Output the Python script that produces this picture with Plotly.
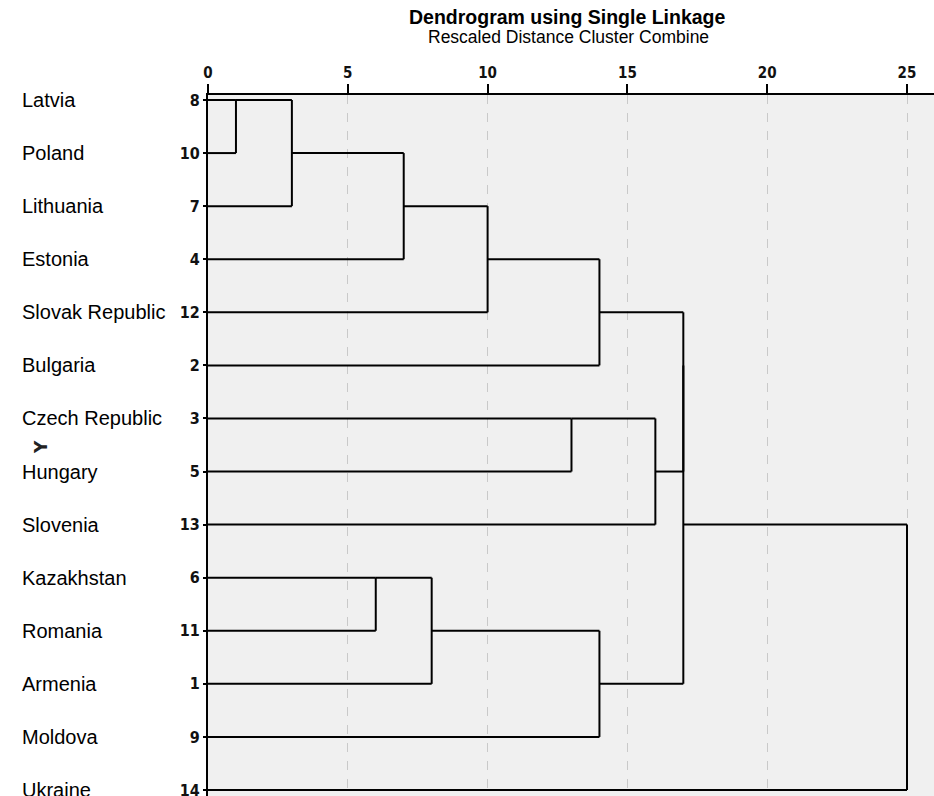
import plotly.graph_objects as go
import math

# ---- data ----
countries = ["Latvia", "Poland", "Lithuania", "Estonia", "Slovak Republic", "Bulgaria",
             "Czech Republic", "Hungary", "Slovenia", "Kazakhstan", "Romania", "Armenia",
             "Moldova", "Ukraine"]
case_ids = [8, 10, 7, 4, 12, 2, 3, 5, 13, 6, 11, 1, 9, 14]

# agglomeration schedule (SPSS style: cluster keeps the first-listed id), rescaled distance
merge_a = [8, 7, 6, 4, 1, 4, 3, 2, 1, 3, 2, 1, 1]
merge_b = [10, 8, 11, 7, 6, 12, 5, 4, 9, 13, 3, 2, 14]
merge_dist = [1, 3, 6, 7, 8, 10, 13, 14, 14, 16, 17, 17, 25]

x_ticks = [0, 5, 10, 15, 20, 25]

# ---- build dendrogram segments ----
row_of = {cid: i for i, cid in enumerate(case_ids)}
pos_y = {cid: row_of[cid] for cid in case_ids}
pos_x = {cid: 0 for cid in case_ids}
xs, ys = [], []
for a, b, d in zip(merge_a, merge_b, merge_dist):
    ya, yb = pos_y[a], pos_y[b]
    xa, xb = pos_x[a], pos_x[b]
    xs += [xa, d, None, xb, d, None, d, d, None]
    ys += [ya, ya, None, yb, yb, None, min(ya, yb), max(ya, yb), None]
    pos_y[a] = math.floor((ya + yb) / 2)
    pos_x[a] = d

fig = go.Figure()
fig.add_trace(go.Scatter(x=xs, y=ys, mode="lines",
                         line=dict(color="black", width=2),
                         hoverinfo="skip", showlegend=False))

W, H = 934, 796
L, T = 208, 95
pw, ph = W - L, H - T
px_per_unit = (907 - 208) / 25.0
x_max = pw / px_per_unit
row_h = (790 - 100) / 13.0
y_top = -(100 - T) / row_h
y_bot = 13 + (H - 790) / row_h

annotations = []
for i, name in enumerate(countries):
    annotations.append(dict(text=name, x=(20 - L) / pw, xref="paper", y=i, yref="y",
                            xanchor="left", yanchor="middle", showarrow=False,
                            font=dict(family="Liberation Sans, Arial", size=20, color="black")))
annotations.append(dict(text="Y", x=(41 - L) / pw, xref="paper", y=(447 - 100) / row_h, yref="y",
                        xanchor="center", yanchor="middle", showarrow=False, textangle=-90,
                        font=dict(family="DejaVu Sans", size=17, color="#222222", weight="bold")))
annotations.append(dict(text="<b>Dendrogram using Single Linkage</b>",
                        x=(567 - L) / pw, xref="paper", y=(H - 17) / ph, yref="paper",
                        xanchor="center", yanchor="middle", showarrow=False,
                        font=dict(family="Liberation Sans, Arial", size=19.5, color="black")))
annotations.append(dict(text="Rescaled Distance Cluster Combine",
                        x=(568 - L) / pw, xref="paper", y=(H - 37) / ph, yref="paper",
                        xanchor="center", yanchor="middle", showarrow=False,
                        font=dict(family="Liberation Sans, Arial", size=17.5, color="black")))

fig.update_layout(
    width=W, height=H,
    margin=dict(l=L, r=0, t=T, b=0, pad=0, autoexpand=False),
    paper_bgcolor="white", plot_bgcolor="#f0f0f0",
    showlegend=False,
    annotations=annotations,
    xaxis=dict(range=[0, x_max], side="top", tickvals=x_ticks,
               ticktext=[str(v) for v in x_ticks], automargin=False,
               showline=True, linecolor="black", linewidth=2,
               ticks="outside", ticklen=9, tickwidth=2, tickcolor="black",
               showgrid=True, gridcolor="#c9c9c9", griddash="dash", gridwidth=1,
               zeroline=False, ticklabeloverflow="allow",
               tickfont=dict(family="DejaVu Sans Condensed, DejaVu Sans", size=15,
                             color="#111111", weight="bold")),
    yaxis=dict(range=[y_bot, y_top], tickvals=list(range(len(case_ids))),
               ticktext=[str(c) for c in case_ids], automargin=False,
               showline=True, linecolor="black", linewidth=2,
               ticks="outside", ticklen=3, tickwidth=1.5, tickcolor="black",
               showgrid=False, zeroline=False, ticklabeloverflow="allow",
               tickfont=dict(family="DejaVu Sans Condensed, DejaVu Sans", size=16,
                             color="#111111", weight="bold")),
)

fig.write_html("out.html")
